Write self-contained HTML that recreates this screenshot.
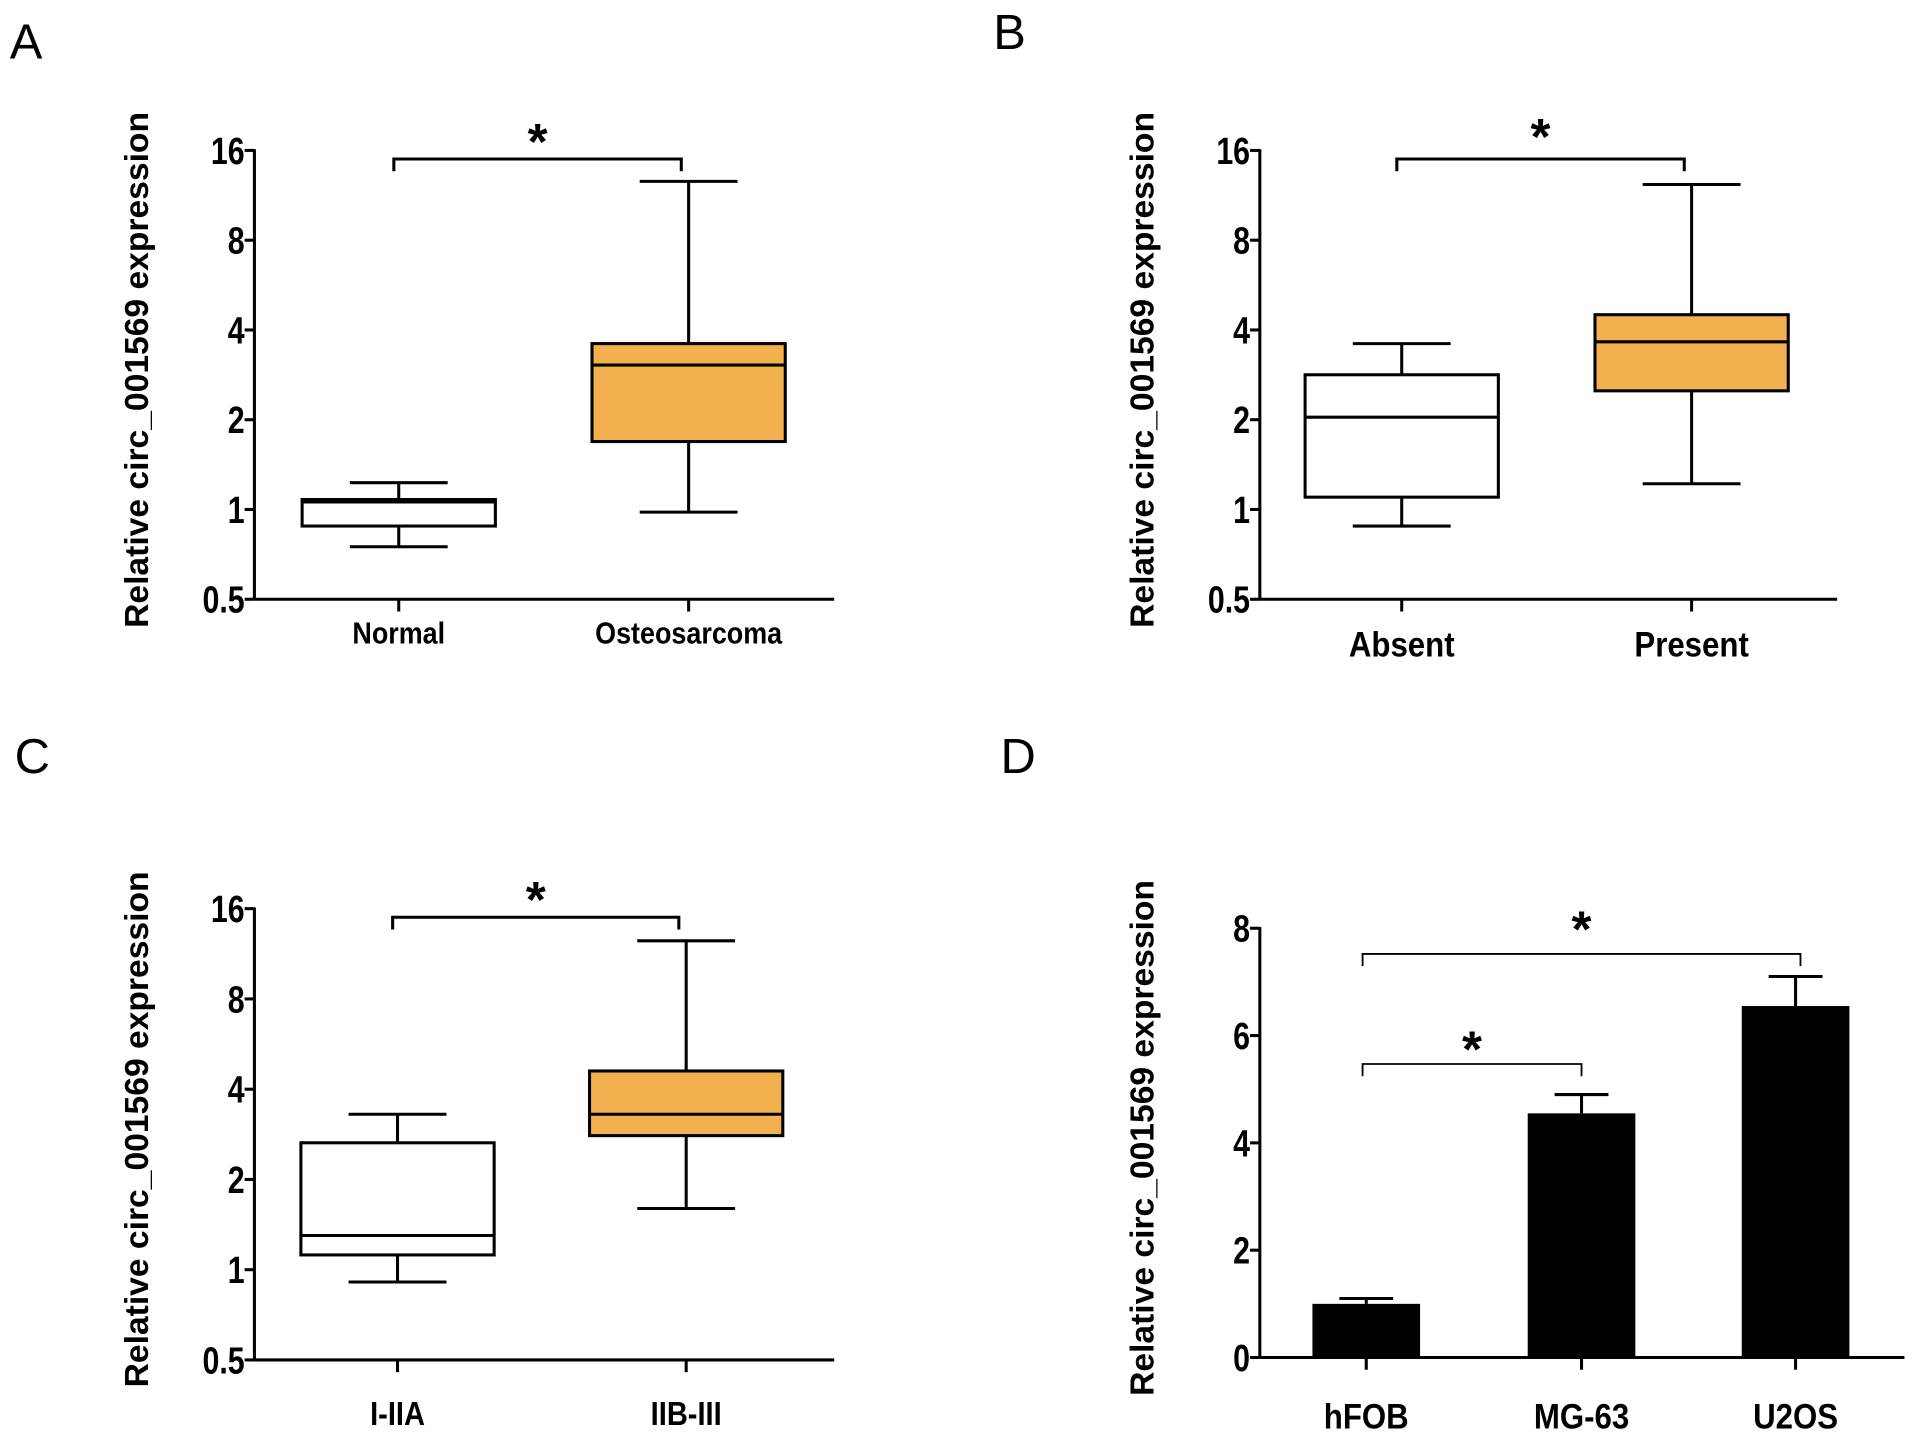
<!DOCTYPE html>
<html><head><meta charset="utf-8"><style>
html,body{margin:0;padding:0;background:#fff}
svg{display:block}
text{font-family:"Liberation Sans",sans-serif}
</style></head><body>
<svg id="fig" width="1913" height="1437" viewBox="0 0 1564 1175" preserveAspectRatio="none"></svg>
<script>
// Panel A data
const catsA = ["Normal", "Osteosarcoma"];
const boxA = [[0.75, 0.88, 1.06, 1.08, 1.23], [0.98, 1.69, 3.05, 3.6, 12.6]];
// Panel B data
const catsB = ["Absent", "Present"];
const boxB = [[0.88, 1.1, 2.04, 2.83, 3.6], [1.22, 2.5, 3.65, 4.5, 12.3]];
// Panel C data
const catsC = ["I-IIA", "IIB-III"];
const boxC = [[0.91, 1.12, 1.3, 2.65, 3.3], [1.6, 2.8, 3.3, 4.6, 12.5]];
// Panel D data
const catsD = ["hFOB", "MG-63", "U2OS"];
const barD = [1.0, 4.55, 6.55];
const errD = [0.1, 0.35, 0.55];
const logTicks = [0.5, 1, 2, 4, 8, 16];
const linTicks = [0, 2, 4, 6, 8];

const NS = "http://www.w3.org/2000/svg";
const svg = document.getElementById("fig");
function el(tag, attrs, parent) {
  const e = document.createElementNS(NS, tag);
  for (const k in attrs) e.setAttribute(k, attrs[k]);
  (parent || svg).appendChild(e);
  return e;
}
function txt(s, x, y, size, weight, anchor, parent) {
  const t = el("text", {x: x, y: y, "font-size": size, "font-weight": weight, "text-anchor": anchor}, parent);
  t.textContent = s;
  return t;
}
// condensed text: scale x by sx around anchor point
function ctxt(s, x, y, size, weight, anchor, sx, parent) {
  const t = el("text", {x: 0, y: 0, "font-size": size, "font-weight": weight, "text-anchor": anchor, transform: "translate(" + x + "," + y + ") scale(" + sx + ",1)"}, parent);
  t.textContent = s;
  return t;
}

function panelLetter(s, x, y) {
  const t = txt(s, x, y, 40, "normal", "start");
  
  
}

function axes(g, x0, x1, yTop, yBot, ticks, yf, xs, cats, labY, labSize) {
  el("line", {x1: x0, y1: yTop - 1, x2: x0, y2: yBot, stroke: "#000", "stroke-width": 2.5}, g);
  el("line", {x1: x0, y1: yBot, x2: x1, y2: yBot, stroke: "#000", "stroke-width": 2.5}, g);
  ticks.forEach(v => {
    const y = yf(v);
    el("line", {x1: x0 - 8, y1: y, x2: x0, y2: y, stroke: "#000", "stroke-width": 2.5}, g);
    const t = ctxt(String(v), x0 - 8, y + 11, 31, "bold", "end", 0.8, g);
    
    
  });
  cats.forEach((c, i) => {
    el("line", {x1: xs[i], y1: yBot, x2: xs[i], y2: yBot + 10, stroke: "#000", "stroke-width": 2.5}, g);
    const t = ctxt(c, xs[i], labY, labSize, "bold", "middle", 0.88, g);
    
    
  });
  const ty = (yTop + yBot) / 2 - 4;
  const t = txt("Relative circ_001569 expression", 0, 0, 27.5, "bold", "middle", g);
  t.setAttribute("transform", "translate(" + (x0 - 87) + "," + ty + ") rotate(-90)");
  
  
}

function bracket(g, xa, xb, y, starY, sw) {
  el("path", {d: "M" + xa + "," + (y + 10) + "V" + y + "H" + xb + "V" + (y + 10), fill: "none", stroke: "#000", "stroke-width": sw}, g);
  const t = txt("*", (xa + xb) / 2, starY + 22, 42, "bold", "middle", g);
  
  
}

function boxPanel(name, cats, data, x0, x1, xs, yTop, yBot, labY, labSize, brY, starY) {
  const g = el("g", {});
  
  
  const per = (yBot - yTop) / 5;
  const yf = v => yBot - (Math.log2(v) + 1) * per;
  axes(g, x0, x1, yTop, yBot, logTicks, yf, xs, cats, labY, labSize);
  const fills = ["#ffffff", "#f2b04e"];
  data.forEach((d, i) => {
    const bg = el("g", {}, g);
    
    
    const cx = xs[i], hw = 79, cw = 40;
    el("line", {x1: cx, y1: yf(d[4]), x2: cx, y2: yf(d[3]), stroke: "#000", "stroke-width": 2.5}, bg);
    el("line", {x1: cx, y1: yf(d[1]), x2: cx, y2: yf(d[0]), stroke: "#000", "stroke-width": 2.5}, bg);
    el("line", {x1: cx - cw, y1: yf(d[4]), x2: cx + cw, y2: yf(d[4]), stroke: "#000", "stroke-width": 2.5}, bg);
    el("line", {x1: cx - cw, y1: yf(d[0]), x2: cx + cw, y2: yf(d[0]), stroke: "#000", "stroke-width": 2.5}, bg);
    el("rect", {x: cx - hw, y: yf(d[3]), width: 2 * hw, height: yf(d[1]) - yf(d[3]), fill: fills[i], stroke: "#000", "stroke-width": 2.5}, bg);
    el("line", {x1: cx - hw, y1: yf(d[2]), x2: cx + hw, y2: yf(d[2]), stroke: "#000", "stroke-width": 2.5}, bg);
  });
  bracket(g, xs[0] - 4, xs[1] - 6, brY, starY, 2.5);
}

panelLetter("A", 8, 48);
panelLetter("B", 812, 40);
panelLetter("C", 12, 632);
panelLetter("D", 818, 632);

boxPanel("panel-a-boxplot", catsA, boxA, 208, 682, [326, 563], 123, 490, 526, 25, 130, 108);
boxPanel("panel-b-boxplot", catsB, boxB, 1030, 1502, [1146, 1383], 123, 490, 537, 29, 130, 104);
boxPanel("panel-c-boxplot", catsC, boxC, 208, 682, [325, 561], 743, 1112, 1165, 27, 750, 728);

// Panel D bar chart
(function () {
  const g = el("g", {});
  
  
  const yTop = 759, yBot = 1110;
  const yf = v => yBot - v * (yBot - yTop) / 8;
  const xs = [1117, 1293, 1468];
  axes(g, 1030, 1557, yTop, yBot, linTicks, yf, xs, catsD, 1168, 29);
  barD.forEach((v, i) => {
    const cx = xs[i];
    el("line", {x1: cx, y1: yf(v + errD[i]), x2: cx, y2: yf(v), stroke: "#000", "stroke-width": 2.5}, g);
    el("line", {x1: cx - 22, y1: yf(v + errD[i]), x2: cx + 22, y2: yf(v + errD[i]), stroke: "#000", "stroke-width": 2.5}, g);
    const r = el("rect", {x: cx - 44, y: yf(v), width: 88, height: yBot - yf(v), fill: "#000"}, g);
    
    
  });
  bracket(g, 1114, 1293, 870, 850, 1.5);
  bracket(g, 1114, 1472, 780, 752, 1.5);
})();
</script>
</body></html>
